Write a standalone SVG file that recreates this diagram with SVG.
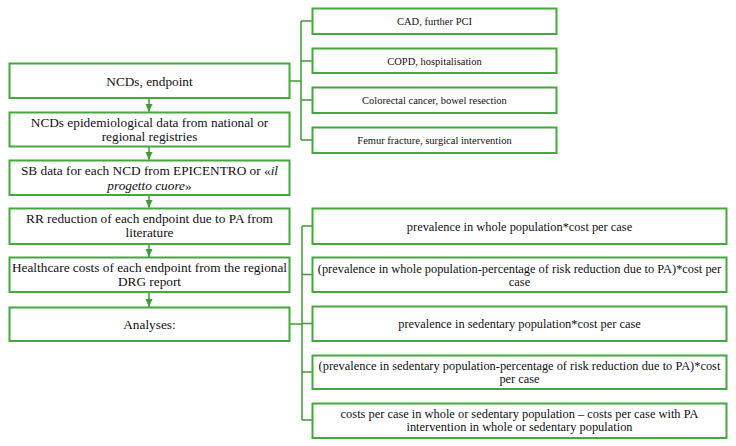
<svg xmlns="http://www.w3.org/2000/svg" width="736" height="446" viewBox="0 0 736 446">
<style>
.box{fill:#fff;stroke:#45a83d;stroke-width:2}
.c{fill:none;stroke:#3f9a38;stroke-width:1.5}
.t{fill:#111;text-anchor:middle;font-family:'Liberation Serif','Times New Roman',serif}
.l{font-size:13.3px}
.s{font-size:10.5px}
.m{font-size:12.4px}
</style>
<defs>
<marker id="ah" viewBox="0 0 8 8" refX="8" refY="4" markerWidth="8" markerHeight="8" markerUnits="userSpaceOnUse" orient="auto">
<path d="M0,0.5 L8,4 L0,7.5 Z" fill="#3f9a38"/>
</marker>
</defs>
<rect width="736" height="446" fill="#fff"/>
<g id="connectors">
<line class="c" x1="149" y1="98" x2="149" y2="112" marker-end="url(#ah)"/>
<line class="c" x1="149" y1="146" x2="149" y2="160" marker-end="url(#ah)"/>
<line class="c" x1="149" y1="195" x2="149" y2="208" marker-end="url(#ah)"/>
<line class="c" x1="149" y1="244" x2="149" y2="257" marker-end="url(#ah)"/>
<line class="c" x1="149" y1="292" x2="149" y2="307" marker-end="url(#ah)"/>
<path class="c" d="M290,81 H301 M301,21 V140 M301,21 H312 M301,61 H312 M301,100 H312 M301,140 H312"/>
<path class="c" d="M290,324 H302 M302,226 V420 M302,226 H312 M302,274.5 H312 M302,323.5 H312 M302,372 H312 M302,420 H312"/>
</g>
<g id="n1"><rect class="box" x="9.5" y="63.5" width="280" height="34.5"/><text class="t l" x="149.5" y="85.5">NCDs, endpoint</text></g>
<g id="n2"><rect class="box" x="9.5" y="112.5" width="280" height="34"/><text class="t l" x="149.5" y="127">NCDs epidemiological data from national or</text><text class="t l" x="149.5" y="140.5">regional registries</text></g>
<g id="n3"><rect class="box" x="9.5" y="160.5" width="280" height="34.5"/><text class="t l" x="149.5" y="175">SB data for each NCD from EPICENTRO or «<tspan font-style="italic">il</tspan></text><text class="t l" x="149.5" y="189.5"><tspan font-style="italic">progetto cuore</tspan>»</text></g>
<g id="n4"><rect class="box" x="9.5" y="208.5" width="280" height="35.5"/><text class="t l" x="149.5" y="223">RR reduction of each endpoint due to PA from</text><text class="t l" x="149.5" y="236.5">literature</text></g>
<g id="n5"><rect class="box" x="9.5" y="257.5" width="280" height="34.5"/><text class="t l" x="149.5" y="272">Healthcare costs of each endpoint from the regional</text><text class="t l" x="149.5" y="286">DRG report</text></g>
<g id="n6"><rect class="box" x="9.5" y="307.5" width="280" height="33.5"/><text class="t l" x="149.5" y="328.5">Analyses:</text></g>
<g id="e1"><rect class="box" x="312.5" y="8.5" width="244" height="25.5"/><text class="t s" x="434.5" y="25">CAD, further PCI</text></g>
<g id="e2"><rect class="box" x="312.5" y="48.5" width="244" height="24.5"/><text class="t s" x="434.5" y="64.5">COPD, hospitalisation</text></g>
<g id="e3"><rect class="box" x="312.5" y="87.5" width="244" height="25.5"/><text class="t s" x="434.5" y="104">Colorectal cancer, bowel resection</text></g>
<g id="e4"><rect class="box" x="312.5" y="127.5" width="244" height="25.5"/><text class="t s" x="434.5" y="144">Femur fracture, surgical intervention</text></g>
<g id="a1"><rect class="box" x="312.5" y="208.5" width="414" height="35.5"/><text class="t m" x="519.5" y="231">prevalence in whole population*cost per case</text></g>
<g id="a2"><rect class="box" x="312.5" y="257.5" width="414" height="34.5"/><text class="t m" x="519.5" y="273">(prevalence in whole population-percentage of risk reduction due to PA)*cost per</text><text class="t m" x="519.5" y="286">case</text></g>
<g id="a3"><rect class="box" x="312.5" y="306.5" width="414" height="34.5"/><text class="t m" x="519.5" y="327.5">prevalence in sedentary population*cost per case</text></g>
<g id="a4"><rect class="box" x="312.5" y="355.5" width="414" height="33.5"/><text class="t m" x="519.5" y="369.5">(prevalence in sedentary population-percentage of risk reduction due to PA)*cost</text><text class="t m" x="519.5" y="382.5">per case</text></g>
<g id="a5"><rect class="box" x="312.5" y="403.5" width="414" height="34.5"/><text class="t m" x="519.5" y="418">costs per case in whole or sedentary population – costs per case with PA</text><text class="t m" x="519.5" y="431">intervention in whole or sedentary population</text></g>
</svg>
